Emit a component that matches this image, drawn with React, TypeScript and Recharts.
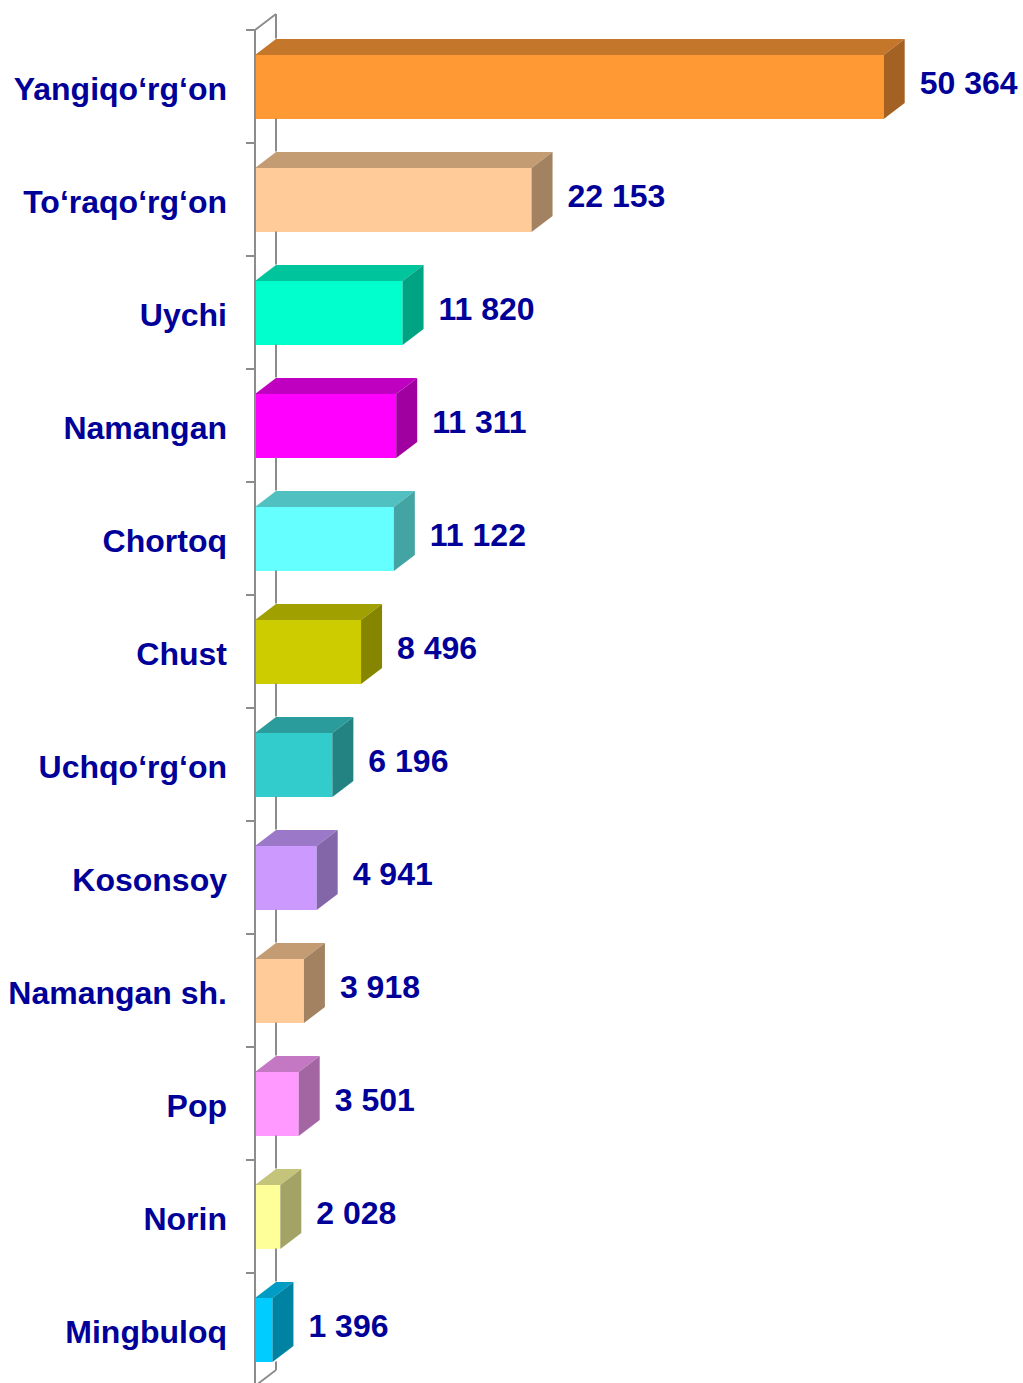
import { BarChart, Bar, XAxis, YAxis, LabelList } from "recharts";

const districts = [
    "Yangiqo‘rg‘on",
    "To‘raqo‘rg‘on",
    "Uychi",
    "Namangan",
    "Chortoq",
    "Chust",
    "Uchqo‘rg‘on",
    "Kosonsoy",
    "Namangan sh.",
    "Pop",
    "Norin",
    "Mingbuloq",
];
const amounts = [50364, 22153, 11820, 11311, 11122, 8496, 6196, 4941, 3918, 3501, 2028, 1396];
// front / top / side shades for each bar
const fronts = ["#FF9933", "#FFCC99", "#00FFCC", "#FF00FF", "#66FFFF", "#CCCC00", "#33CCCC", "#CC99FF", "#FFCC99", "#FF99FF", "#FFFF99", "#00CCFF"];
const tops = ["#C4762A", "#C49C74", "#00C49C", "#C000C0", "#50C0C0", "#A0A000", "#2A9C9C", "#9C78C8", "#C49C74", "#C478C4", "#C4C47A", "#009CC4"];
const sides = ["#A36224", "#A38262", "#00A382", "#A000A0", "#44A3A3", "#858500", "#238282", "#8266A8", "#A38262", "#A366A3", "#A3A366", "#0082A3"];

const data = districts.map((name, i) => ({ name, value: amounts[i], i }));

const W = 1023;
const H = 1400;
const M = { top: 30, right: 19, bottom: 14, left: 0 };
const AXIS_W = 255;
const BAND = (H - M.top - M.bottom) / districts.length;
const BAR = 64;
const DX = 21;
const DY = 16;
const WALL = "#8C8C8C";
const INK = "#000099";
const FONT = "'Liberation Sans', Arial, sans-serif";

const fmt = (v: number) => String(v).replace(/\B(?=(\d{3})+(?!\d))/g, " ");

function CategoryTick(props: any) {
    const { x, y, payload, index } = props;
    const top = y - BAND / 2;
    const last = index === districts.length - 1;
    // back wall line, split so the bar hides it
    const hideFrom = y - BAR / 2 - DY;
    const hideTo = y + BAR / 2;
    return (
        <g>
            <line x1={x - 9} x2={x} y1={top} y2={top} stroke={WALL} strokeWidth={2} />
            <line x1={x + DX} x2={x + DX} y1={top - DY} y2={hideFrom} stroke={WALL} strokeWidth={2} />
            <line x1={x + DX} x2={x + DX} y1={hideTo} y2={top + BAND - DY} stroke={WALL} strokeWidth={2} />
            {index === 0 && <line x1={x} y1={top} x2={x + DX} y2={top - DY} stroke={WALL} strokeWidth={2} />}
            {last && <line x1={x} y1={top + BAND} x2={x + DX} y2={top + BAND - DY} stroke={WALL} strokeWidth={2} />}
            {last && <line x1={x - 9} x2={x} y1={top + BAND} y2={top + BAND} stroke={WALL} strokeWidth={2} />}
            <text x={x - 28} y={y + 2} textAnchor="end" dominantBaseline="central" fill={INK} fontSize={32} fontWeight="bold" fontFamily={FONT}>
                {payload.value}
            </text>
        </g>
    );
}

function Box(props: any) {
    const { x, y, width, height, payload } = props;
    const i = payload.i;
    const r = x + width;
    return (
        <g>
            <rect x={x} y={y} width={width} height={height} fill={fronts[i]} />
            <polygon points={`${x},${y} ${x + DX},${y - DY} ${r + DX},${y - DY} ${r},${y}`} fill={tops[i]} />
            <polygon points={`${r},${y} ${r + DX},${y - DY} ${r + DX},${y + height - DY} ${r},${y + height}`} fill={sides[i]} />
        </g>
    );
}

function ValueLabel(props: any) {
    const { x, y, width, height, value } = props;
    return (
        <text x={x + width + DX + 15} y={y + height / 2 - 4} dominantBaseline="central" fill={INK} fontSize={32} fontWeight="bold" fontFamily={FONT}>
            {fmt(value)}
        </text>
    );
}

export default function App() {
    return (
        <div style={{ position: "absolute", left: 0, top: 0, background: "#fff" }}>
            <BarChart width={W} height={H} data={data} layout="vertical" margin={M} barSize={BAR}>
                <XAxis type="number" domain={[0, 60000]} hide />
                <YAxis
                    type="category"
                    dataKey="name"
                    width={AXIS_W}
                    tickSize={0}
                    tickMargin={0}
                    tickLine={false}
                    axisLine={{ stroke: WALL, strokeWidth: 2 }}
                    tick={<CategoryTick />}
                    interval={0}
                />
                <Bar dataKey="value" shape={<Box />} isAnimationActive={false}>
                    <LabelList dataKey="value" content={<ValueLabel />} />
                </Bar>
            </BarChart>
        </div>
    );
}
